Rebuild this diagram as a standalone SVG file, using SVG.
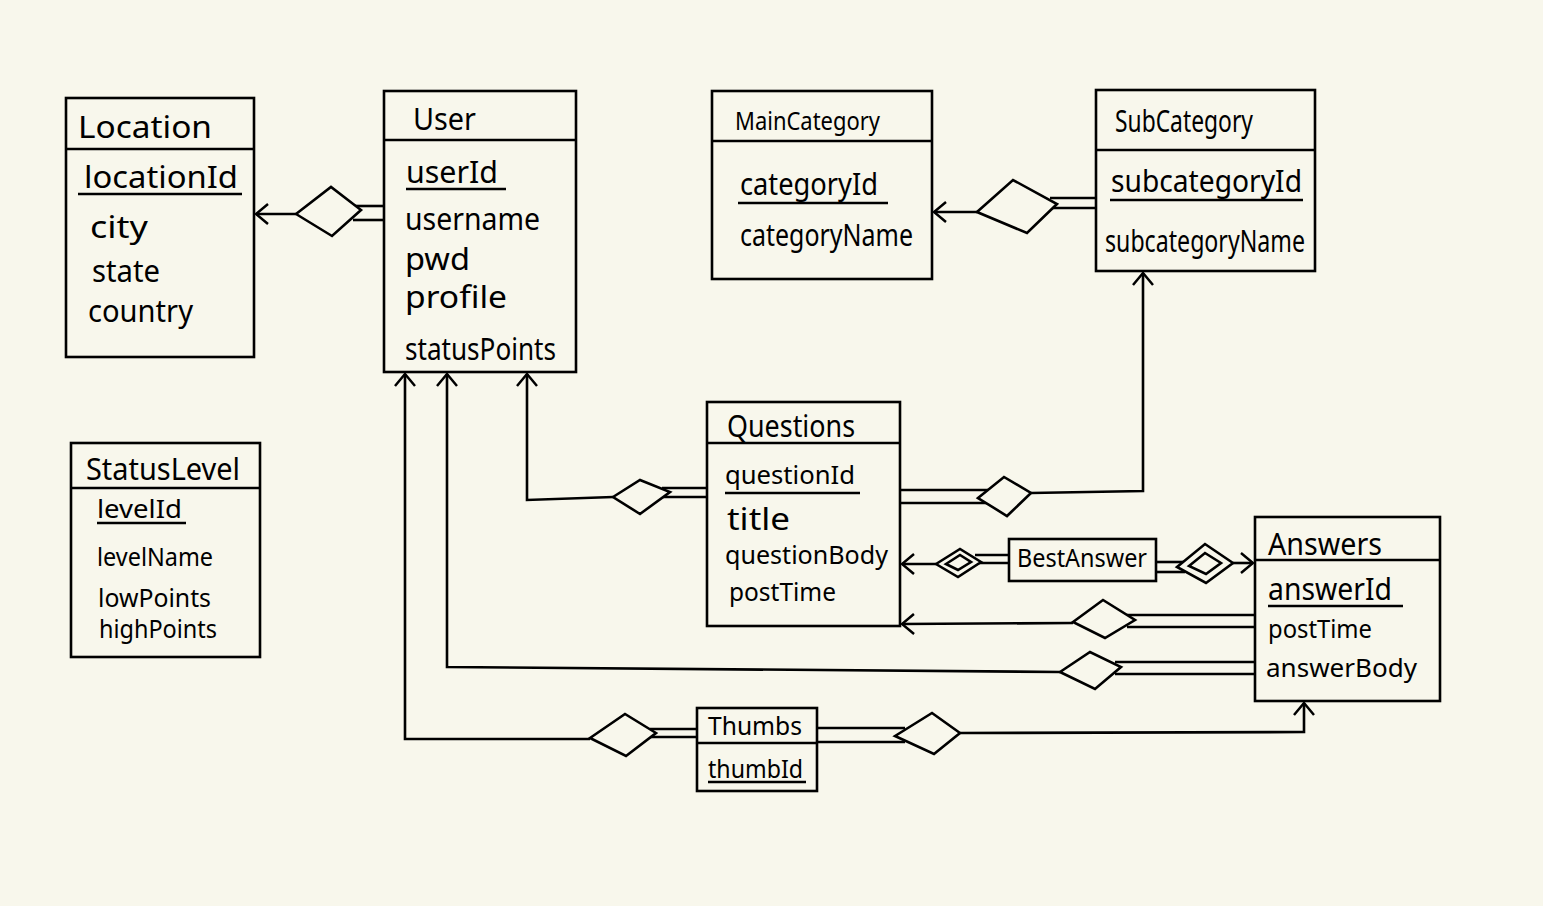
<svg xmlns="http://www.w3.org/2000/svg" width="1543" height="906" viewBox="0 0 1543 906">
<defs>
<style>
.box{fill:none;stroke:#000;stroke-width:2.6}
.ln{fill:none;stroke:#000;stroke-width:2.6}
.dm{fill:#f8f7ec;stroke:#000;stroke-width:2.6;stroke-linejoin:miter}
text{font-family:"Noto Sans","Liberation Sans",sans-serif;fill:#000}
.t{font-size:30px}
.a{font-size:30px}
.s{font-size:25px}
</style>
<marker id="arr" viewBox="0 0 14 22" refX="13" refY="11" markerWidth="14" markerHeight="22" orient="auto" markerUnits="userSpaceOnUse">
<path d="M1,1 L13,11 L1,21" fill="none" stroke="#000" stroke-width="2.5"/>
</marker>
</defs>
<rect width="1543" height="906" fill="#f8f7ec"/>

<g id="connectors">
<!-- Location - User -->
<line class="ln" x1="296" y1="214" x2="256" y2="214" marker-end="url(#arr)"/>
<line class="ln" x1="353" y1="206" x2="384" y2="206"/>
<line class="ln" x1="353" y1="220" x2="384" y2="220"/>
<polygon class="dm" points="296,214 331,187 361,210 332,236"/>
<!-- MainCategory - SubCategory -->
<line class="ln" x1="977" y1="212" x2="934" y2="212" marker-end="url(#arr)"/>
<line class="ln" x1="1050" y1="198" x2="1096" y2="198"/>
<line class="ln" x1="1050" y1="208" x2="1096" y2="208"/>
<polygon class="dm" points="977,212 1013,180 1057,204 1027,233"/>
<!-- User - Questions -->
<polyline class="ln" points="613,497 527,500 527,374" marker-end="url(#arr)"/>
<line class="ln" x1="662" y1="488" x2="707" y2="488"/>
<line class="ln" x1="662" y1="497" x2="707" y2="497"/>
<polygon class="dm" points="613,497 640,480 670,492 640,514"/>
<!-- Questions - SubCategory -->
<line class="ln" x1="900" y1="490" x2="988" y2="490"/>
<line class="ln" x1="900" y1="503" x2="988" y2="503"/>
<polyline class="ln" points="1031,493 1143,491 1143,273" marker-end="url(#arr)"/>
<polygon class="dm" points="978,498 1004,477 1031,493 1007,516"/>
<!-- BestAnswer -->
<line class="ln" x1="936" y1="564" x2="902" y2="564" marker-end="url(#arr)"/>
<line class="ln" x1="975" y1="555" x2="1009" y2="555"/>
<line class="ln" x1="975" y1="563" x2="1009" y2="563"/>
<polygon class="dm" points="936,564 960,549 981,562 958,577"/>
<polygon class="dm" points="946,564 960,555 971,562 958,570"/>
<line class="ln" x1="1156" y1="562" x2="1185" y2="562"/>
<line class="ln" x1="1156" y1="572" x2="1185" y2="572"/>
<line class="ln" x1="1233" y1="563" x2="1253" y2="563" marker-end="url(#arr)"/>
<polygon class="dm" points="1177,567 1205,544 1233,563 1206,583"/>
<polygon class="dm" points="1189,566 1205,553 1221,563 1206,574"/>
<!-- Answers - Questions -->
<line class="ln" x1="1073" y1="623" x2="902" y2="624" marker-end="url(#arr)"/>
<line class="ln" x1="1127" y1="615" x2="1255" y2="615"/>
<line class="ln" x1="1127" y1="627" x2="1255" y2="627"/>
<polygon class="dm" points="1073,622 1103,600 1135,620 1105,638"/>
<!-- Answers - User -->
<polyline class="ln" points="1060,672 447,667 447,374" marker-end="url(#arr)"/>
<line class="ln" x1="1115" y1="662" x2="1255" y2="662"/>
<line class="ln" x1="1115" y1="674" x2="1255" y2="674"/>
<polygon class="dm" points="1060,672 1090,652 1121,667 1095,689"/>
<!-- Thumbs - User -->
<polyline class="ln" points="590,739 405,739 405,374" marker-end="url(#arr)"/>
<line class="ln" x1="650" y1="729" x2="697" y2="729"/>
<line class="ln" x1="650" y1="737" x2="697" y2="737"/>
<polygon class="dm" points="590,738 625,714 656,733 626,756"/>
<!-- Thumbs - Answers -->
<line class="ln" x1="817" y1="728" x2="905" y2="728"/>
<line class="ln" x1="817" y1="742" x2="905" y2="742"/>
<polyline class="ln" points="960,733 1304,732 1304,703" marker-end="url(#arr)"/>
<polygon class="dm" points="895,736 932,713 960,733 934,754"/>
</g>

<g id="Location">
<rect class="box" x="66" y="98" width="188" height="259"/>
<line class="ln" x1="66" y1="149" x2="254" y2="149"/>
<text class="t" x="78" y="138" textLength="134" lengthAdjust="spacingAndGlyphs">Location</text>
<text class="a" x="84" y="188" textLength="154" lengthAdjust="spacingAndGlyphs">locationId</text>
<line class="ln" x1="78" y1="194" x2="242" y2="194"/>
<text class="a" x="90" y="238" textLength="58" lengthAdjust="spacingAndGlyphs">city</text>
<text class="a" x="92" y="282" textLength="68" lengthAdjust="spacingAndGlyphs">state</text>
<text class="a" x="88" y="322" textLength="105" lengthAdjust="spacingAndGlyphs">country</text>
</g>

<g id="User">
<rect class="box" x="384" y="91" width="192" height="281"/>
<line class="ln" x1="384" y1="140" x2="576" y2="140"/>
<text class="t" x="413" y="130" textLength="63" lengthAdjust="spacingAndGlyphs">User</text>
<text class="a" x="406" y="183" textLength="92" lengthAdjust="spacingAndGlyphs">userId</text>
<line class="ln" x1="406" y1="189" x2="506" y2="189"/>
<text class="a" x="405" y="230" textLength="135" lengthAdjust="spacingAndGlyphs">username</text>
<text class="a" x="405" y="270" textLength="65" lengthAdjust="spacingAndGlyphs">pwd</text>
<text class="a" x="405" y="308" textLength="102" lengthAdjust="spacingAndGlyphs">profile</text>
<text class="a" x="405" y="360" textLength="151" lengthAdjust="spacingAndGlyphs">statusPoints</text>
</g>

<g id="MainCategory">
<rect class="box" x="712" y="91" width="220" height="188"/>
<line class="ln" x1="712" y1="141" x2="932" y2="141"/>
<text class="s" x="735" y="130" textLength="145" lengthAdjust="spacingAndGlyphs">MainCategory</text>
<text class="a" x="740" y="195" textLength="138" lengthAdjust="spacingAndGlyphs">categoryId</text>
<line class="ln" x1="738" y1="203" x2="888" y2="203"/>
<text class="a" x="740" y="246" textLength="173" lengthAdjust="spacingAndGlyphs">categoryName</text>
</g>

<g id="SubCategory">
<rect class="box" x="1096" y="90" width="219" height="181"/>
<line class="ln" x1="1096" y1="150" x2="1315" y2="150"/>
<text class="a" x="1115" y="132" textLength="138" lengthAdjust="spacingAndGlyphs">SubCategory</text>
<text class="a" x="1111" y="192" textLength="191" lengthAdjust="spacingAndGlyphs">subcategoryId</text>
<line class="ln" x1="1110" y1="200" x2="1303" y2="200"/>
<text class="a" x="1105" y="252" textLength="200" lengthAdjust="spacingAndGlyphs">subcategoryName</text>
</g>

<g id="StatusLevel">
<rect class="box" x="71" y="443" width="189" height="214"/>
<line class="ln" x1="71" y1="488" x2="260" y2="488"/>
<text class="t" x="86" y="480" textLength="154" lengthAdjust="spacingAndGlyphs">StatusLevel</text>
<text class="s" x="97" y="518" textLength="85" lengthAdjust="spacingAndGlyphs">levelId</text>
<line class="ln" x1="97" y1="523" x2="186" y2="523"/>
<text class="s" x="97" y="566" textLength="116" lengthAdjust="spacingAndGlyphs">levelName</text>
<text class="s" x="98" y="607" textLength="113" lengthAdjust="spacingAndGlyphs">lowPoints</text>
<text class="s" x="99" y="638" textLength="118" lengthAdjust="spacingAndGlyphs">highPoints</text>
</g>

<g id="Questions">
<rect class="box" x="707" y="402" width="193" height="224"/>
<line class="ln" x1="707" y1="443" x2="900" y2="443"/>
<text class="t" x="727" y="437" textLength="128" lengthAdjust="spacingAndGlyphs">Questions</text>
<text class="s" x="725" y="484" textLength="130" lengthAdjust="spacingAndGlyphs">questionId</text>
<line class="ln" x1="725" y1="493" x2="860" y2="493"/>
<text class="a" x="727" y="530" textLength="63" lengthAdjust="spacingAndGlyphs">title</text>
<text class="s" x="725" y="564" textLength="163" lengthAdjust="spacingAndGlyphs">questionBody</text>
<text class="s" x="729" y="601" textLength="107" lengthAdjust="spacingAndGlyphs">postTime</text>
</g>

<g id="BestAnswer">
<rect class="box" x="1009" y="539" width="147" height="42"/>
<text class="s" x="1017" y="567" textLength="130" lengthAdjust="spacingAndGlyphs">BestAnswer</text>
</g>

<g id="Answers">
<rect class="box" x="1255" y="517" width="185" height="184"/>
<line class="ln" x1="1255" y1="560" x2="1440" y2="560"/>
<text class="t" x="1268" y="555" textLength="114" lengthAdjust="spacingAndGlyphs">Answers</text>
<text class="a" x="1268" y="600" textLength="124" lengthAdjust="spacingAndGlyphs">answerId</text>
<line class="ln" x1="1268" y1="606" x2="1403" y2="606"/>
<text class="s" x="1268" y="638" textLength="104" lengthAdjust="spacingAndGlyphs">postTime</text>
<text class="s" x="1266" y="677" textLength="151" lengthAdjust="spacingAndGlyphs">answerBody</text>
</g>

<g id="Thumbs">
<rect class="box" x="697" y="708" width="120" height="83"/>
<line class="ln" x1="697" y1="743" x2="817" y2="743"/>
<text class="s" x="708" y="735" textLength="94" lengthAdjust="spacingAndGlyphs">Thumbs</text>
<text class="s" x="708" y="778" textLength="95" lengthAdjust="spacingAndGlyphs">thumbId</text>
<line class="ln" x1="708" y1="782" x2="806" y2="782"/>
</g>
</svg>
